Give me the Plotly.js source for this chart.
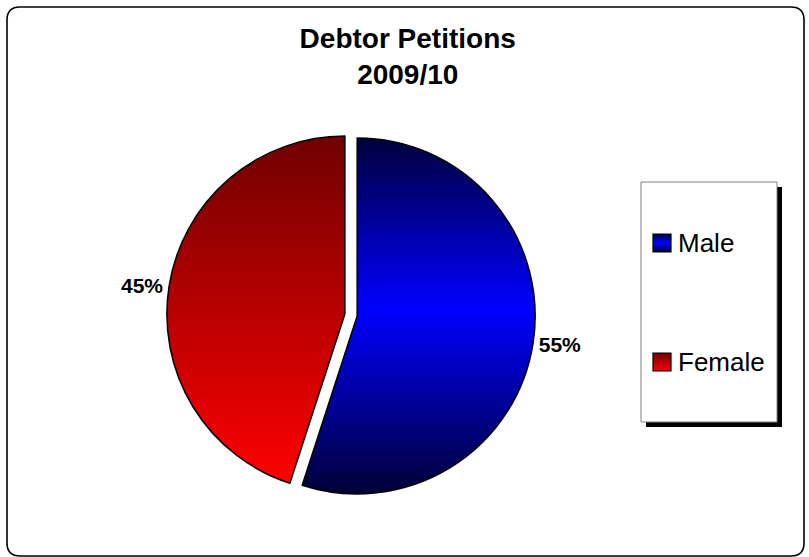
<!DOCTYPE html>
<html>
<head>
<meta charset="utf-8">
<script src="https://cdn.plot.ly/plotly-3.0.1.min.js"></script>
<style>
  html, body { margin: 0; padding: 0; background: #ffffff; }
  #chart { width: 809px; height: 557px; }
</style>
</head>
<body>
<div id="chart"></div>
<script>
// ---- data ----
const chartTitle = 'Debtor Petitions<br>2009/10';
const labels = ['Male', 'Female'];
const values = [55, 45];
const baseColors = ['#0000ff', '#ff0000'];

// ---- styling ----
const W = 809, H = 557;
const FONT = 'Liberation Sans, Arial, sans-serif';
const gradStops = {
  Male:   [[0, '#00003c'], [0.48, '#0000ff'], [1, '#000036']],
  Female: [[0, '#700000'], [1, '#ff0000']]
};
const px = v => v / W;
const py = v => 1 - v / H;

// rounded outer border in paper coordinates
function roundRect(x0, y0, x1, y1, r) {
  const rx = r / W, ry = r / H;
  const L = px(x0), R = px(x1), T = py(y0), B = py(y1);
  return `M${L + rx},${T} L${R - rx},${T} Q${R},${T} ${R},${T - ry} ` +
         `L${R},${B + ry} Q${R},${B} ${R - rx},${B} L${L + rx},${B} ` +
         `Q${L},${B} ${L},${B + ry} L${L},${T - ry} Q${L},${T} ${L + rx},${T} Z`;
}

const legendBox = { x0: 641, y0: 182, x1: 777, y1: 422 };
const legendRowsY = [243, 362];

const shapes = [
  { type: 'path', xref: 'paper', yref: 'paper', path: roundRect(7, 7, 804, 556, 13),
    line: { color: '#000000', width: 1.6 }, fillcolor: 'rgba(0,0,0,0)', layer: 'below' },
  { type: 'rect', xref: 'paper', yref: 'paper',
    x0: px(legendBox.x0 + 5), x1: px(legendBox.x1 + 5), y0: py(legendBox.y1 + 5), y1: py(legendBox.y0 + 5),
    line: { width: 0 }, fillcolor: '#000000', layer: 'below' },
  { type: 'rect', xref: 'paper', yref: 'paper',
    x0: px(legendBox.x0), x1: px(legendBox.x1), y0: py(legendBox.y1), y1: py(legendBox.y0),
    line: { color: '#808080', width: 1 }, fillcolor: '#ffffff', layer: 'below' }
];
const swatchStart = shapes.length;
labels.forEach((lab, i) => {
  const cy = legendRowsY[i];
  shapes.push({ type: 'rect', xref: 'paper', yref: 'paper',
    x0: px(653), x1: px(671), y0: py(cy + 9), y1: py(cy - 9),
    line: { color: '#000000', width: 1.2 }, fillcolor: baseColors[i], layer: 'above' });
});

const annotations = labels.map((lab, i) => ({
  xref: 'paper', yref: 'paper', x: px(676), y: py(legendRowsY[i]),
  xanchor: 'left', yanchor: 'middle', showarrow: false, text: lab,
  font: { family: FONT, size: 26, color: '#000000' }
}));

const trace = {
  type: 'pie',
  labels: labels,
  values: values,
  sort: false,
  direction: 'clockwise',
  rotation: 0,
  pull: [0.035, 0.035],
  marker: { colors: baseColors, line: { color: '#000000', width: 1.5 } },
  textinfo: 'percent',
  texttemplate: '%{percent:.0%}',
  textposition: 'outside',
  textfont: { family: FONT, size: 21, color: '#000000', weight: 'bold' },
  showlegend: false,
  hoverinfo: 'label+percent',
  domain: { x: [0.2062, 0.6616], y: [0.1037, 0.7653] }
};

const layout = {
  width: W, height: H,
  margin: { l: 0, r: 0, t: 0, b: 0 },
  paper_bgcolor: '#ffffff',
  title: {
    text: chartTitle,
    x: 0.504, xanchor: 'center', xref: 'paper',
    y: py(48), yanchor: 'top', yref: 'paper',
    font: { family: FONT, size: 28, color: '#000000', weight: 'bold' }
  },
  showlegend: false,
  shapes: shapes,
  annotations: annotations
};

const gd = document.getElementById('chart');

function makeGrad(defs, id, stops) {
  const ns = 'http://www.w3.org/2000/svg';
  let g = defs.querySelector('#' + id);
  if (g) return;
  g = document.createElementNS(ns, 'linearGradient');
  g.setAttribute('id', id);
  g.setAttribute('x1', '0'); g.setAttribute('y1', '0');
  g.setAttribute('x2', '0'); g.setAttribute('y2', '1');
  stops.forEach(([o, c]) => {
    const s = document.createElementNS(ns, 'stop');
    s.setAttribute('offset', String(o));
    s.setAttribute('stop-color', c);
    g.appendChild(s);
  });
  defs.appendChild(g);
}

function applyGradients() {
  const svg = gd.querySelector('svg.main-svg');
  if (!svg) return;
  let defs = svg.querySelector('defs');
  if (!defs) {
    defs = document.createElementNS('http://www.w3.org/2000/svg', 'defs');
    svg.insertBefore(defs, svg.firstChild);
  }
  labels.forEach(lab => makeGrad(defs, 'grad' + lab, gradStops[lab]));
  const slices = gd.querySelectorAll('g.slice path.surface');
  slices.forEach((p, i) => {
    if (labels[i]) p.style.fill = 'url(#grad' + labels[i] + ')';
  });
  labels.forEach((lab, i) => {
    const sp = gd.querySelector('.shapelayer path[data-index="' + (swatchStart + i) + '"]');
    if (sp) sp.style.fill = 'url(#grad' + lab + ')';
  });
}

Plotly.newPlot(gd, [trace], layout, { displayModeBar: false, staticPlot: true }).then(() => {
  applyGradients();
  gd.on('plotly_afterplot', applyGradients);
});
</script>
</body>
</html>
